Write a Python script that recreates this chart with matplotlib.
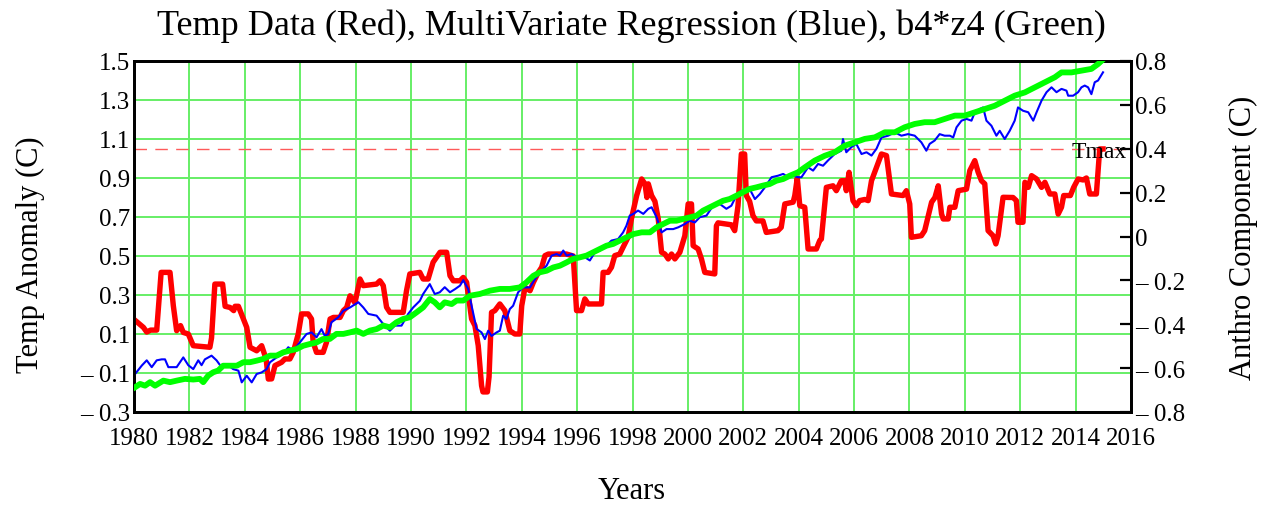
import numpy as np
import matplotlib
matplotlib.use('Agg')
import matplotlib.pyplot as plt

# (year, value)
red = [(1980.04, 0.17), (1980.34, 0.134), (1980.46, 0.11), (1980.6, 0.12), (1980.82, 0.12), (1980.98, 0.416),
       (1981.3, 0.416), (1981.42, 0.245), (1981.54, 0.117), (1981.68, 0.143), (1981.78, 0.108), (1981.96, 0.10),
       (1982.14, 0.04), (1982.74, 0.032), (1982.8, 0.08), (1982.92, 0.356), (1983.2, 0.356), (1983.29, 0.242),
       (1983.47, 0.236), (1983.6, 0.22), (1983.65, 0.242), (1983.77, 0.242), (1983.95, 0.177), (1984.07, 0.134),
       (1984.19, 0.032), (1984.43, 0.014), (1984.61, 0.04), (1984.77, -0.028), (1984.85, -0.131), (1984.97, -0.13),
       (1985.09, -0.062), (1985.33, -0.045), (1985.45, -0.028), (1985.63, -0.028), (1985.75, 0.006), (1985.93, 0.10),
       (1986.05, 0.203), (1986.29, 0.203), (1986.41, 0.177), (1986.47, 0.057), (1986.59, 0.006), (1986.83, 0.006),
       (1986.95, 0.057), (1987.08, 0.177), (1987.2, 0.185), (1987.44, 0.185), (1987.56, 0.22), (1987.68, 0.236),
       (1987.8, 0.296), (1987.98, 0.26), (1988.16, 0.382), (1988.28, 0.348), (1988.76, 0.356), (1988.88, 0.373),
       (1989.0, 0.348), (1989.12, 0.237), (1989.24, 0.211), (1989.72, 0.211), (1989.84, 0.322), (1989.96, 0.408),
       (1990.32, 0.416), (1990.44, 0.382), (1990.62, 0.382), (1990.8, 0.468), (1991.05, 0.519), (1991.29, 0.519),
       (1991.41, 0.399), (1991.53, 0.373), (1991.77, 0.373), (1991.89, 0.39), (1992.01, 0.365), (1992.19, 0.177),
       (1992.31, 0.143), (1992.43, 0.04), (1992.55, -0.165), (1992.6, -0.197), (1992.76, -0.197), (1992.82, -0.12),
       (1992.91, 0.211), (1993.03, 0.22), (1993.21, 0.254), (1993.39, 0.22), (1993.57, 0.117), (1993.75, 0.10),
       (1993.93, 0.10), (1994.0, 0.245), (1994.12, 0.339), (1994.3, 0.322), (1994.42, 0.365), (1994.6, 0.416),
       (1994.72, 0.442), (1994.84, 0.502), (1994.96, 0.51), (1995.62, 0.51), (1995.86, 0.50), (1995.98, 0.22),
       (1996.16, 0.22), (1996.28, 0.28), (1996.4, 0.254), (1996.88, 0.254), (1996.94, 0.416), (1997.12, 0.416),
       (1997.24, 0.442), (1997.36, 0.502), (1997.54, 0.51), (1997.66, 0.545), (1997.84, 0.596), (1997.96, 0.69),
       (1998.15, 0.81), (1998.33, 0.895), (1998.45, 0.87), (1998.52, 0.80), (1998.57, 0.87), (1998.69, 0.81),
       (1998.81, 0.78), (1998.93, 0.69), (1999.05, 0.519), (1999.17, 0.51), (1999.29, 0.485), (1999.41, 0.51),
       (1999.53, 0.485), (1999.71, 0.519), (1999.89, 0.604), (2000.01, 0.767), (2000.13, 0.767), (2000.19, 0.553),
       (2000.37, 0.536), (2000.49, 0.485), (2000.61, 0.416), (2000.97, 0.408), (2001.03, 0.655), (2001.09, 0.67),
       (2001.57, 0.66), (2001.69, 0.63), (2001.81, 0.758), (2001.93, 1.023), (2002.05, 1.023), (2002.11, 0.81),
       (2002.23, 0.78), (2002.35, 0.707), (2002.47, 0.68), (2002.71, 0.68), (2002.83, 0.621), (2003.25, 0.63),
       (2003.37, 0.647), (2003.5, 0.767), (2003.8, 0.776), (2003.86, 0.81), (2003.95, 0.9), (2004.04, 0.758),
       (2004.22, 0.75), (2004.34, 0.536), (2004.64, 0.536), (2004.76, 0.579), (2004.82, 0.587), (2005.0, 0.852),
       (2005.24, 0.86), (2005.36, 0.835), (2005.54, 0.886), (2005.66, 0.886), (2005.72, 0.835), (2005.82, 0.929),
       (2005.96, 0.784), (2006.08, 0.758), (2006.2, 0.784), (2006.39, 0.79), (2006.51, 0.784), (2006.63, 0.886),
       (2006.81, 0.955), (2006.99, 1.023), (2007.17, 1.015), (2007.35, 0.818), (2007.77, 0.81), (2007.89, 0.835),
       (2008.01, 0.767), (2008.07, 0.596), (2008.43, 0.604), (2008.55, 0.63), (2008.67, 0.699), (2008.8, 0.776),
       (2008.92, 0.80), (2009.04, 0.86), (2009.16, 0.715), (2009.22, 0.69), (2009.4, 0.69), (2009.46, 0.75),
       (2009.64, 0.75), (2009.76, 0.835), (2010.06, 0.843), (2010.18, 0.938), (2010.36, 0.989), (2010.48, 0.93),
       (2010.6, 0.886), (2010.72, 0.87), (2010.84, 0.63), (2011.02, 0.604), (2011.12, 0.562), (2011.2, 0.604),
       (2011.38, 0.801), (2011.74, 0.80), (2011.86, 0.784), (2011.92, 0.673), (2012.1, 0.673), (2012.17, 0.878),
       (2012.29, 0.852), (2012.41, 0.912), (2012.59, 0.895), (2012.77, 0.852), (2012.89, 0.878), (2013.07, 0.818),
       (2013.25, 0.818), (2013.37, 0.715), (2013.49, 0.75), (2013.57, 0.81), (2013.81, 0.81), (2013.93, 0.852),
       (2014.09, 0.895), (2014.27, 0.89), (2014.39, 0.9), (2014.51, 0.818), (2014.75, 0.818), (2014.87, 1.049),
       (2014.99, 1.049)]

blue = [(1980.04, -0.105), (1980.28, -0.062), (1980.46, -0.035), (1980.64, -0.07), (1980.82, -0.035), (1981.0, -0.03),
        (1981.12, -0.03), (1981.24, -0.07), (1981.54, -0.07), (1981.78, -0.02), (1981.96, -0.06), (1982.14, -0.08),
        (1982.32, -0.035), (1982.44, -0.06), (1982.56, -0.03), (1982.8, -0.011), (1982.98, -0.035), (1983.16, -0.07),
        (1983.4, -0.06), (1983.58, -0.08), (1983.77, -0.088), (1983.89, -0.148), (1984.07, -0.114), (1984.25, -0.148),
        (1984.43, -0.105), (1984.61, -0.097), (1984.79, -0.08), (1984.91, -0.045), (1985.15, -0.02), (1985.39, -0.002),
        (1985.57, 0.032), (1985.75, 0.015), (1985.99, 0.057), (1986.23, 0.1), (1986.41, 0.108), (1986.59, 0.083),
        (1986.77, 0.125), (1986.89, 0.09), (1987.01, 0.1), (1987.13, 0.16), (1987.37, 0.185), (1987.56, 0.22),
        (1987.8, 0.236), (1988.1, 0.263), (1988.28, 0.236), (1988.46, 0.203), (1988.76, 0.194), (1989.0, 0.151),
        (1989.24, 0.117), (1989.42, 0.143), (1989.66, 0.143), (1989.9, 0.203), (1990.08, 0.236), (1990.32, 0.27),
        (1990.44, 0.305), (1990.68, 0.356), (1990.86, 0.305), (1991.04, 0.314), (1991.22, 0.34), (1991.41, 0.314),
        (1991.59, 0.33), (1991.77, 0.348), (1991.89, 0.376), (1992.07, 0.33), (1992.19, 0.245), (1992.37, 0.126),
        (1992.55, 0.108), (1992.67, 0.074), (1992.79, 0.117), (1992.91, 0.09), (1993.09, 0.108), (1993.21, 0.117),
        (1993.33, 0.194), (1993.45, 0.177), (1993.57, 0.228), (1993.69, 0.245), (1993.87, 0.314), (1994.05, 0.339),
        (1994.3, 0.339), (1994.48, 0.382), (1994.72, 0.425), (1994.9, 0.451), (1995.08, 0.502), (1995.26, 0.51),
        (1995.38, 0.502), (1995.5, 0.528), (1995.62, 0.502), (1995.8, 0.51), (1995.92, 0.50), (1996.1, 0.494),
        (1996.28, 0.494), (1996.46, 0.477), (1996.64, 0.519), (1996.82, 0.528), (1997.06, 0.553), (1997.24, 0.579),
        (1997.48, 0.587), (1997.66, 0.621), (1997.78, 0.655), (1997.9, 0.707), (1998.03, 0.716), (1998.2, 0.733),
        (1998.39, 0.716), (1998.57, 0.742), (1998.69, 0.75), (1998.87, 0.699), (1999.05, 0.621), (1999.23, 0.638),
        (1999.47, 0.638), (1999.65, 0.647), (1999.89, 0.664), (2000.07, 0.681), (2000.25, 0.672), (2000.43, 0.699),
        (2000.67, 0.707), (2000.91, 0.758), (2001.15, 0.767), (2001.39, 0.742), (2001.57, 0.758), (2001.75, 0.81),
        (2001.93, 0.835), (2002.11, 0.827), (2002.23, 0.844), (2002.42, 0.792), (2002.6, 0.818), (2002.78, 0.852),
        (2003.02, 0.904), (2003.26, 0.912), (2003.44, 0.921), (2003.62, 0.904), (2003.8, 0.912), (2003.98, 0.904),
        (2004.1, 0.904), (2004.34, 0.955), (2004.52, 0.938), (2004.7, 0.972), (2004.88, 0.963), (2005.06, 0.99),
        (2005.3, 1.023), (2005.54, 1.04), (2005.6, 1.1), (2005.72, 1.032), (2005.9, 1.058), (2006.08, 1.075),
        (2006.27, 1.023), (2006.45, 1.032), (2006.63, 1.015), (2006.81, 1.05), (2006.99, 1.108), (2007.23, 1.117),
        (2007.47, 1.134), (2007.71, 1.117), (2007.95, 1.125), (2008.19, 1.117), (2008.43, 1.083), (2008.61, 1.04),
        (2008.73, 1.075), (2008.91, 1.092), (2009.09, 1.125), (2009.27, 1.117), (2009.46, 1.117), (2009.58, 1.108),
        (2009.7, 1.16), (2009.88, 1.194), (2010.06, 1.203), (2010.24, 1.194), (2010.36, 1.237), (2010.54, 1.254),
        (2010.66, 1.262), (2010.78, 1.194), (2010.96, 1.168), (2011.14, 1.117), (2011.26, 1.142), (2011.44, 1.1),
        (2011.62, 1.142), (2011.8, 1.194), (2011.92, 1.262), (2012.1, 1.245), (2012.29, 1.237), (2012.47, 1.194),
        (2012.59, 1.237), (2012.77, 1.297), (2012.95, 1.34), (2013.13, 1.365), (2013.31, 1.34), (2013.49, 1.357),
        (2013.67, 1.348), (2013.73, 1.322), (2013.91, 1.322), (2014.09, 1.34), (2014.21, 1.365), (2014.33, 1.374),
        (2014.45, 1.365), (2014.57, 1.33), (2014.69, 1.391), (2014.81, 1.40), (2014.99, 1.442)]

# anthro component, right axis
green = [(1980.04, -0.687), (1980.22, -0.672), (1980.4, -0.68), (1980.58, -0.664), (1980.76, -0.68), (1981.06, -0.657),
         (1981.3, -0.664), (1981.54, -0.657), (1981.84, -0.649), (1982.14, -0.652), (1982.38, -0.649), (1982.5, -0.664),
         (1982.68, -0.634), (1982.86, -0.619), (1983.04, -0.611), (1983.22, -0.589), (1983.47, -0.589), (1983.71, -0.589),
         (1983.95, -0.573), (1984.19, -0.573), (1984.43, -0.566), (1984.67, -0.558), (1984.91, -0.543), (1985.15, -0.543),
         (1985.39, -0.528), (1985.63, -0.52), (1985.87, -0.513), (1986.11, -0.498), (1986.35, -0.49), (1986.59, -0.483),
         (1986.83, -0.467), (1987.07, -0.467), (1987.31, -0.444), (1987.56, -0.444), (1987.8, -0.437), (1988.04, -0.429),
         (1988.28, -0.444), (1988.52, -0.429), (1988.76, -0.422), (1989.0, -0.406), (1989.24, -0.414), (1989.48, -0.391),
         (1989.72, -0.376), (1989.96, -0.368), (1990.2, -0.346), (1990.44, -0.323), (1990.68, -0.285), (1990.86, -0.3),
         (1991.04, -0.323), (1991.22, -0.3), (1991.47, -0.308), (1991.65, -0.292), (1991.89, -0.292), (1992.13, -0.27),
         (1992.49, -0.262), (1992.85, -0.247), (1993.21, -0.239), (1993.57, -0.239), (1993.93, -0.232), (1994.17, -0.209),
         (1994.42, -0.179), (1994.66, -0.163), (1994.9, -0.156), (1995.14, -0.141), (1995.38, -0.133), (1995.62, -0.118),
         (1995.86, -0.102), (1996.1, -0.095), (1996.34, -0.087), (1996.58, -0.072), (1996.82, -0.057), (1997.06, -0.042),
         (1997.3, -0.034), (1997.54, -0.019), (1997.78, -0.004), (1998.03, 0.011), (1998.33, 0.019), (1998.63, 0.019),
         (1998.87, 0.042), (1999.11, 0.057), (1999.35, 0.072), (1999.59, 0.072), (1999.83, 0.08), (2000.07, 0.087),
         (2000.31, 0.095), (2000.55, 0.118), (2000.79, 0.133), (2001.03, 0.148), (2001.27, 0.163), (2001.51, 0.171),
         (2001.75, 0.186), (2001.99, 0.202), (2002.23, 0.217), (2002.47, 0.224), (2002.71, 0.232), (2002.95, 0.239),
         (2003.19, 0.254), (2003.44, 0.262), (2003.68, 0.277), (2003.98, 0.293), (2004.22, 0.315), (2004.58, 0.346),
         (2004.94, 0.368), (2005.3, 0.384), (2005.66, 0.414), (2006.02, 0.429), (2006.39, 0.445), (2006.75, 0.452),
         (2007.11, 0.475), (2007.47, 0.475), (2007.83, 0.498), (2008.19, 0.513), (2008.55, 0.521), (2008.91, 0.521),
         (2009.27, 0.536), (2009.64, 0.551), (2010.0, 0.551), (2010.36, 0.566), (2010.72, 0.581), (2011.08, 0.596),
         (2011.44, 0.619), (2011.8, 0.642), (2012.17, 0.657), (2012.53, 0.68), (2012.89, 0.703), (2013.25, 0.726),
         (2013.49, 0.748), (2013.85, 0.748), (2014.21, 0.756), (2014.57, 0.764), (2014.81, 0.786), (2014.93, 0.80)]

tmax = 1.05
left_ticks = [-0.3, -0.1, 0.1, 0.3, 0.5, 0.7, 0.9, 1.1, 1.3, 1.5]
right_ticks = [-0.8, -0.6, -0.4, -0.2, 0.0, 0.2, 0.4, 0.6, 0.8]
year_ticks = list(range(1980, 2017, 2))


def lab(v):
    s = f'{abs(v):.1f}'
    if abs(v) < 1e-9:
        s = '0'
    return ('\u2013 ' + s) if v < -1e-9 else s


plt.rcParams['font.family'] = ['Liberation Serif', 'DejaVu Serif']
W, H = 1269, 506
fig = plt.figure(figsize=(W / 100, H / 100), dpi=100)
ax = fig.add_axes([134 / W, 1 - 413 / H, 997 / W, 351 / H])
ax2 = ax.twinx()

grid_c = '#66ee66'
ax.set_xlim(1980, 2016)
ax.set_ylim(-0.3, 1.5)
ax.set_xticks(year_ticks)
ax.set_xticklabels([str(y) for y in year_ticks])
ax.set_yticks(left_ticks)
ax.set_yticklabels([lab(v) for v in left_ticks])
ax.grid(True, color=grid_c, lw=1.4, zorder=0)
ax.tick_params(axis='both', length=0, labelsize=18)
ax.tick_params(axis='x', pad=11)
ax.tick_params(axis='y', pad=3)

r = np.array(red); b = np.array(blue); g = np.array(green)
ax.plot(r[:, 0], r[:, 1], color='#ff0000', lw=3.9, zorder=3, solid_joinstyle='round')
ax.plot(b[:, 0], b[:, 1], color='#0000ff', lw=1.5, zorder=4)
ax.axhline(tmax, color='#ff5a5a', lw=1.0, dashes=(9, 6), zorder=2)
ax.text(2015.85, tmax - 0.012, 'Tmax', ha='right', va='center', fontsize=17, zorder=6)

ax2.set_ylim(-0.8, 0.8)
ax2.set_yticks(right_ticks)
ax2.set_yticklabels([lab(v) for v in right_ticks])
ax2.tick_params(axis='y', direction='in', length=8, width=1.6, labelsize=18, pad=3)
ax2.plot(g[:, 0], g[:, 1], color='#00ff00', lw=4.2, zorder=5, solid_joinstyle='round')

for a in (ax, ax2):
    for s in a.spines.values():
        s.set_linewidth(2.0)
        s.set_color('black')

fig.text(631 / W, 1 - 26 / H, 'Temp Data (Red), MultiVariate Regression (Blue), b4*z4 (Green)',
         ha='center', va='center', fontsize=26)
fig.text(30 / W, 1 - 255 / H, 'Temp Anomaly (C)', rotation=90, ha='center', va='center', fontsize=22)
fig.text(1243 / W, 1 - 238 / H, 'Anthro Component (C)', rotation=90, ha='center', va='center', fontsize=22)
fig.text(632 / W, 1 - 492 / H, 'Years', ha='center', va='center', fontsize=22)

fig.savefig('out.png', dpi=100)
